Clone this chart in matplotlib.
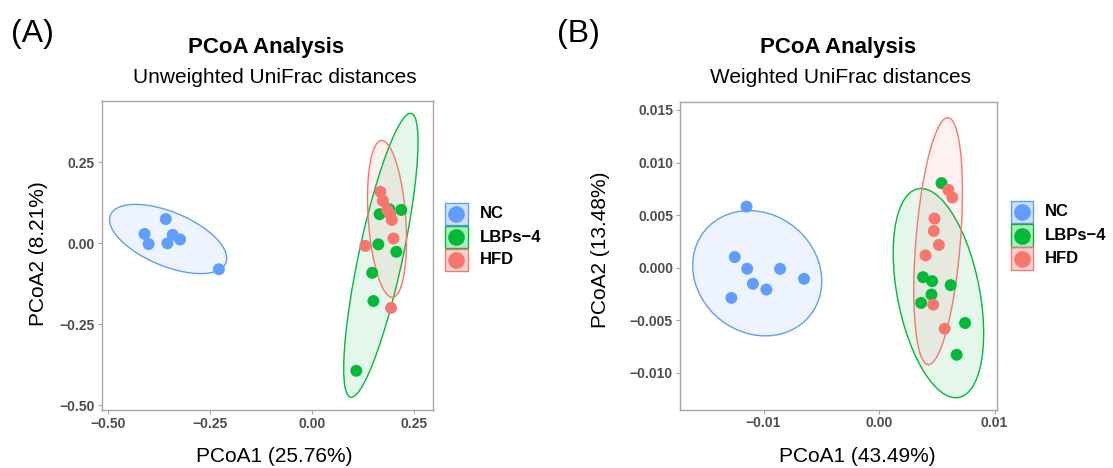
import numpy as np
import matplotlib
matplotlib.use("Agg")
import matplotlib.pyplot as plt
from matplotlib.patches import Polygon, Rectangle
from matplotlib.lines import Line2D

plt.rcParams['font.family'] = ['Liberation Sans', 'DejaVu Sans']

# ---------------- data ----------------
groups = ["NC", "LBPs\u22124", "HFD"]
colors = ["#619CFF", "#00BA38", "#F8766D"]

# Panel A : Unweighted UniFrac
a_nc_x = [-0.358, -0.410, -0.400, -0.341, -0.354, -0.323, -0.228]
a_nc_y = [0.075, 0.029, -0.002, 0.026, 0.000, 0.012, -0.080]
a_lbp_x = [0.165, 0.189, 0.218, 0.162, 0.206, 0.147, 0.150, 0.108]
a_lbp_y = [0.090, 0.105, 0.103, -0.003, -0.026, -0.091, -0.178, -0.393]
a_hfd_x = [0.167, 0.173, 0.184, 0.191, 0.195, 0.199, 0.130, 0.193]
a_hfd_y = [0.159, 0.131, 0.103, 0.090, 0.072, 0.015, -0.008, -0.199]

# Panel B : Weighted UniFrac
b_nc_x = [-0.01147, -0.01249, -0.01141, -0.00856, -0.00649, -0.01092, -0.00975, -0.01278]
b_nc_y = [0.00582, 0.00102, -0.00009, -0.00010, -0.00105, -0.00152, -0.00207, -0.00286]
b_lbp_x = [0.00541, 0.00381, 0.00460, 0.00620, 0.00454, 0.00364, 0.00745, 0.00672]
b_lbp_y = [0.00805, -0.00089, -0.00127, -0.00165, -0.00254, -0.00334, -0.00525, -0.00827]
b_hfd_x = [0.00600, 0.00635, 0.00480, 0.00474, 0.00518, 0.00402, 0.00469, 0.00568]
b_hfd_y = [0.00741, 0.00668, 0.00468, 0.00350, 0.00217, 0.00118, -0.00350, -0.00579]

a_xticks = [-0.50, -0.25, 0.00, 0.25]
a_xticklabels = ["\u22120.50", "\u22120.25", "0.00", "0.25"]
a_yticks = [-0.50, -0.25, 0.00, 0.25]
a_yticklabels = ["\u22120.50", "\u22120.25", "0.00", "0.25"]
b_xticks = [-0.01, 0.00, 0.01]
b_xticklabels = ["\u22120.01", "0.00", "0.01"]
b_yticks = [-0.010, -0.005, 0.000, 0.005, 0.010, 0.015]
b_yticklabels = ["\u22120.010", "\u22120.005", "0.000", "0.005", "0.010", "0.015"]


# ---------------- stat_ellipse (type = "t") ----------------
def cov_trob(x, nu=5, maxit=25, tol=0.01):
    n, p = x.shape
    wt = np.ones(n)
    loc = x.mean(axis=0)
    w = np.sqrt(wt)
    X = x - loc
    for _ in range(maxit):
        w0 = w
        X = x - loc
        _, d, vt = np.linalg.svd(np.sqrt(w / w.sum())[:, None] * X, full_matrices=False)
        wX = X @ vt.T @ np.diag(1.0 / d)
        Q = (wX ** 2).sum(axis=1)
        w = (wt * (nu + p)) / (nu + Q)
        loc = (w[:, None] * x).sum(axis=0) / w.sum()
        if np.all(np.abs(w - w0) < tol):
            break
    sX = np.sqrt(w)[:, None] * X
    cov = sX.T @ sX / wt.sum()
    return loc, cov


def ellipse_points(xs, ys, level=0.95, segments=51):
    data = np.column_stack([xs, ys])
    n = len(xs)
    center, shape = cov_trob(data)
    d2 = n - 1
    qf = d2 / 2.0 * ((1 - level) ** (-2.0 / d2) - 1)
    radius = np.sqrt(2 * qf)
    ang = np.linspace(0, 2 * np.pi, segments + 1)
    circ = np.column_stack([np.cos(ang), np.sin(ang)])
    L = np.linalg.cholesky(shape)
    return center + radius * (circ @ L.T)


W, H = 1113, 468
fig = plt.figure(figsize=(W / 100, H / 100), dpi=100)

frame_col = "#A6A6A6"
tick_col = "#4D4D4D"


def fx(px):
    return px / W


def fy(py):
    return 1 - py / H


def make_panel(rect, series, xlim, ylim, xt, xtl, yt, ytl):
    ax = fig.add_axes(rect)
    for (xs, ys), c in zip(series, colors):
        pts = ellipse_points(np.array(xs), np.array(ys))
        ax.add_patch(Polygon(pts, closed=True, facecolor=c, alpha=0.1,
                             edgecolor="none", zorder=1))
        ax.add_patch(Polygon(pts, closed=True, facecolor="none",
                             edgecolor=c, lw=1.0, zorder=2))
    for (xs, ys), c in zip(series, colors):
        ax.scatter(xs, ys, s=74, color=c, edgecolors="none", zorder=3)
    ax.set_xlim(*xlim)
    ax.set_ylim(*ylim)
    ax.set_xticks(xt, xtl)
    ax.set_yticks(yt, ytl)
    for sp in ax.spines.values():
        sp.set_color(frame_col)
        sp.set_linewidth(1.0)
    ax.tick_params(direction="out", length=3, width=0.8, color=frame_col,
                   labelcolor=tick_col, labelsize=10, pad=2)
    for lab in ax.get_xticklabels() + ax.get_yticklabels():
        lab.set_fontweight("bold")
    return ax


# Panel A
axA = make_panel([fx(102), 1 - 410 / H, fx(432.7) - fx(102), (410 - 101) / H],
                 [(a_nc_x, a_nc_y), (a_lbp_x, a_lbp_y), (a_hfd_x, a_hfd_y)],
                 (-0.514, 0.295), (-0.514, 0.439),
                 a_xticks, a_xticklabels, a_yticks, a_yticklabels)
# Panel B
axB = make_panel([fx(680), 1 - 409.5 / H, fx(997.3) - fx(680), (409.5 - 102) / H],
                 [(b_nc_x, b_nc_y), (b_lbp_x, b_lbp_y), (b_hfd_x, b_hfd_y)],
                 (-0.01723, 0.01024), (-0.01347, 0.01576),
                 b_xticks, b_xticklabels, b_yticks, b_yticklabels)

# Texts
fig.text(fx(11), fy(42), "(A)", ha="left", va="baseline", size=23)
fig.text(fx(557), fy(42), "(B)", ha="left", va="baseline", size=23)

fig.text(fx(266), fy(53), "PCoA Analysis", ha="center", va="baseline",
         size=16, weight="bold")
fig.text(fx(275), fy(83), "Unweighted UniFrac distances", ha="center",
         va="baseline", size=15)
fig.text(fx(838), fy(53), "PCoA Analysis", ha="center", va="baseline",
         size=16, weight="bold")
fig.text(fx(840), fy(83), "Weighted UniFrac distances", ha="center",
         va="baseline", size=15)

fig.text(fx(274), fy(462), "PCoA1 (25.76%)", ha="center", va="baseline", size=15)
fig.text(fx(857), fy(462), "PCoA1 (43.49%)", ha="center", va="baseline", size=15)
fig.text(fx(38), fy(254), "PCoA2 (8.21%)", ha="center", va="center",
         rotation=90, size=15)
fig.text(fx(601), fy(250), "PCoA2 (13.48%)", ha="center", va="center",
         rotation=90, size=15)


# Legends (drawn as keys with ellipse fill + point)
def draw_legend(x0, y_centers, text_x):
    key = 22.5
    for g, c, yc in zip(groups, colors, y_centers):
        fig.add_artist(Rectangle((fx(x0), fy(yc + key / 2)), key / W, key / H,
                                 transform=fig.transFigure, facecolor=c,
                                 alpha=0.3, edgecolor="none"))
        fig.add_artist(Rectangle((fx(x0), fy(yc + key / 2)), key / W, key / H,
                                 transform=fig.transFigure, facecolor="none",
                                 edgecolor=c, lw=1.0))
        fig.add_artist(Line2D([fx(x0 + key / 2)], [fy(yc)], marker="o",
                              ms=12, color=c, mec="none", ls="",
                              transform=fig.transFigure))
        fig.text(fx(text_x), fy(yc), g, ha="left", va="center", size=12,
                 weight="bold")


draw_legend(445, [214, 237, 260], 480)
draw_legend(1010.5, [212, 235.5, 258.5], 1045)

fig.savefig("out.png", dpi=100)
